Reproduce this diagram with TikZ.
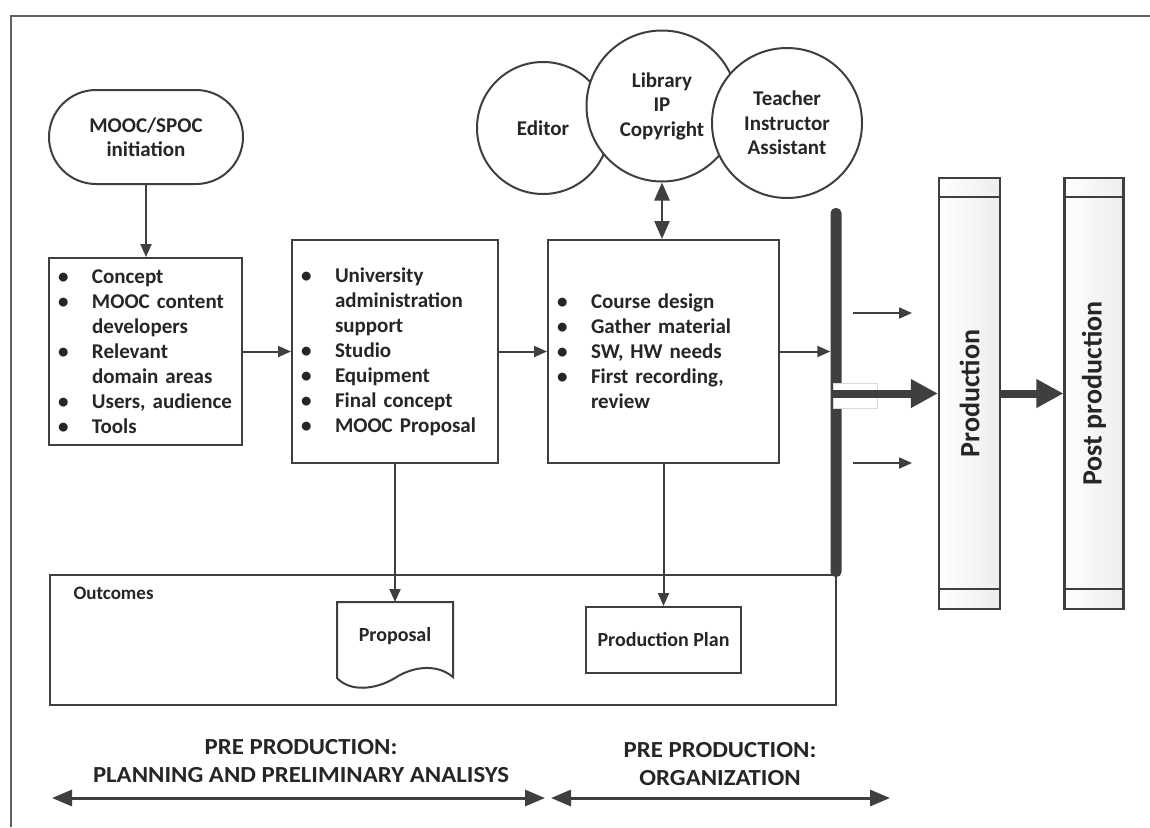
\documentclass[tikz,border=0pt]{standalone}
\usepackage{fontspec}
\setmainfont{Carlito}
\newfontfamily\widefont{Carlito}[FakeStretch=1.08]
\usetikzlibrary{arrows.meta,calc}
\definecolor{ln}{HTML}{3F3F3F}
\definecolor{tx}{HTML}{262626}
\newcommand\bul{\makebox[34pt][l]{\textbullet}}
\newcommand\ind{\hspace*{34pt}}
\begin{document}
\begin{tikzpicture}[x=1pt,y=-1pt,
  every node/.style={text=tx, font=\fontsize{21}{25}\selectfont\bfseries},
  box/.style={draw=ln, line width=2pt, fill=white, inner sep=0pt},
  listbox/.style={box, align=left, inner xsep=9pt, inner ysep=0pt},
  circ/.style={circle, draw=ln, line width=2pt, fill=white, inner sep=0pt, align=center, font=\fontsize{21}{24.5}\selectfont\bfseries},
  stage/.style={draw=ln, line width=2.2pt, left color=white, right color=gray!14, inner sep=0pt, minimum width=61pt, minimum height=431pt},
  link/.style={draw=ln, line width=2pt, -{Triangle[length=13pt,width=11pt]}},
  dlink/.style={draw=ln, line width=2.5pt, {Triangle[length=18pt,width=15pt]}-{Triangle[length=18pt,width=15pt]}},
  thick/.style={draw=ln, line width=8pt, -{Triangle[length=27pt,width=27pt]}},
  span/.style={draw=ln, line width=3pt, {Triangle[length=20pt,width=16pt]}-{Triangle[length=20pt,width=16pt]}},
  lbl/.style={align=center, font=\widefont\fontsize{23}{28}\selectfont\bfseries}
]
\useasboundingbox (0,0) rectangle (1150,827);
\fill[white] (0,0) rectangle (1150,827);
% outer frame
\draw[draw=gray!75!black, line width=2pt] (11,827) -- (11,16) -- (1150,16);

% outcomes container
\node[box, minimum width=786pt, minimum height=130pt] (out) at (443,640) {};
\node[anchor=west, font=\fontsize{19}{22}\selectfont\bfseries] (outlbl) at (70,593) {Outcomes};

% start
\node[box, rounded corners=47pt, minimum width=194pt, minimum height=94pt, align=center, font=\fontsize{21}{24}\selectfont\bfseries] (init) at (146,137) {MOOC/SPOC\\initiation};

% list boxes
\node[listbox, text width=175pt, minimum height=187pt] (b1) at (145.5,351.5)
  {\bul Concept\\ \bul MOOC content\\ \ind developers\\ \bul Relevant\\ \ind domain areas\\ \bul Users, audience\\ \bul Tools};
\node[listbox, text width=188pt, minimum height=223pt] (b2) at (395,351.5)
  {\bul University\\ \ind administration\\ \ind support\\ \bul Studio\\ \bul Equipment\\ \bul Final concept\\ \bul MOOC Proposal};
\node[listbox, text width=213pt, minimum height=223pt] (b3) at (663.5,351.5)
  {\bul Course design\\ \bul Gather material\\ \bul SW, HW needs\\ \bul First recording,\\ \ind review};

% circles
\node[circ, minimum size=132pt] (ed) at (543,128) {Editor};
\node[circ, minimum size=151pt] (lib) at (662,106) {Library\\IP\\Copyright};
\node[circ, minimum size=150pt] (tea) at (787,123) {Teacher\\Instructor\\Assistant};

% outcomes
\coordinate (prop) at (395,640);
\coordinate (propN) at (395,602);
\draw[draw=ln, line width=2pt, fill=white] (337,678) -- (337,602) -- (453,602) -- (453,677)
  .. controls (435,662) and (410,668) .. (395,678)
  .. controls (375,690) and (350,692) .. (337,678) -- cycle;
\node[font=\fontsize{20}{24}\selectfont\bfseries] (proptxt) at (395,636) {Proposal};
\node[box, minimum width=155pt, minimum height=66pt, font=\fontsize{20}{24}\selectfont\bfseries] (plan) at (663.5,640) {Production Plan};

% synchronisation bar
\node[fill=ln, inner sep=0pt, minimum width=11pt, minimum height=369pt, rounded corners=5pt] (bar) at (836,392.5) {};
\node[draw=gray!30, line width=0.8pt, fill=white, inner sep=0pt, minimum width=44pt, minimum height=25pt] (gap) at (855,395.5) {};

% stages
\node[stage] (prod) at (969.5,393.5) {};
\node[stage, minimum width=59pt] (post) at (1094,393.5) {};
\foreach \s in {prod,post}{
  \draw[draw=ln, line width=2pt] ($(\s.north west)+(0,20)$) -- ($(\s.north east)+(0,20)$);
  \draw[draw=ln, line width=2pt] ($(\s.south west)+(0,-21)$) -- ($(\s.south east)+(0,-21)$);
}
\node[rotate=90, font=\fontsize{28}{32}\selectfont\bfseries] (prodtxt) at (prod) {Production};
\node[rotate=90, font=\fontsize{28}{32}\selectfont\bfseries] (posttxt) at (post) {Post production};

% connectors
\draw[link] (init.south) -- (init.south |- b1.north);
\draw[link] (b1) -- (b2);
\draw[link] (b2) -- (b3);
\draw[link] (b3.east) -- (b3.east -| bar.west);
\draw[link] (b2.south) -- (propN);
\draw[link] (b3.south) -- (plan.north);
\draw[dlink] (lib.south) -- (lib.south |- b3.north);
\draw[thick] (gap.west |- prod) -- (prod.west);
\draw[thick] (prod.east) -- (post.west);

\coordinate (s1a) at (853,313); \coordinate (s1b) at (912,313);
\coordinate (s2a) at (853,463); \coordinate (s2b) at (912,463);
\draw[link, line width=1.8pt] (s1a) -- (s1b);
\draw[link, line width=1.8pt] (s2a) -- (s2b);

% phase labels
\node[lbl] (ph1) at (301,761) {PRE PRODUCTION:\\PLANNING AND PRELIMINARY ANALISYS};
\node[lbl] (ph2) at (720,764) {PRE PRODUCTION:\\ORGANIZATION};
\coordinate (p1a) at (52,798); \coordinate (p1b) at (545,798);
\coordinate (p2a) at (551,798); \coordinate (p2b) at (890,798);
\draw[span] (p1a) -- (p1b);
\draw[span] (p2a) -- (p2b);
\end{tikzpicture}
\end{document}
